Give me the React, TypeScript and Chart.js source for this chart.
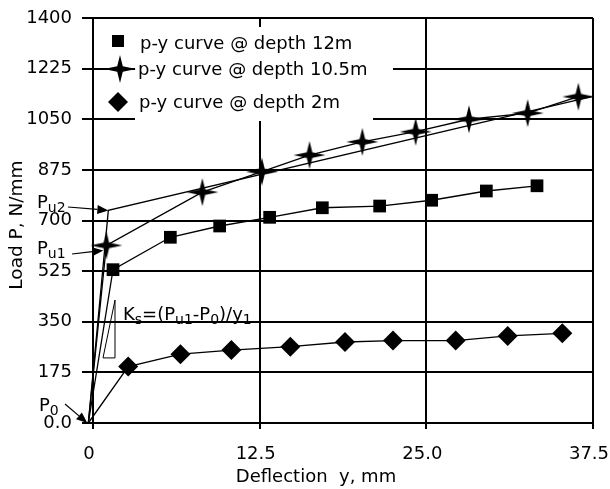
import { useEffect, useRef } from 'react';
import { Chart, registerables } from 'chart.js';

Chart.register(...registerables);

// ---------- data ----------
const xTickLabels = ['0', '12.5', '25.0', '37.5'];
const yTickLabels = ['0.0', '175', '350', '525', '700', '875', '1050', '1225', '1400'];

const seriesNames = ['p-y curve @ depth 12m', 'p-y curve @ depth 10.5m', 'p-y curve @ depth 2m'];

const depth12X = [-0.35, 1.5, 5.8, 9.5, 13.25, 17.2, 21.5, 25.4, 29.5, 33.3];
const depth12Y = [0, 530, 642, 681, 711, 744, 750, 770, 802, 820];

const depth105X = [-0.35, 1.0, 8.2, 12.67, 16.24, 20.2, 24.2, 28.2, 32.6, 36.4];
const depth105Y = [0, 614, 798, 869, 926, 972, 1007, 1050, 1071, 1128];

const depth2X = [-0.35, 2.64, 6.56, 10.38, 14.8, 18.9, 22.5, 27.2, 31.1, 35.2];
const depth2Y = [0, 195, 238, 252, 264, 280, 285, 285, 301, 310];

// bilinear idealisation (P0 -> Pu2 -> end)
const bilinearX = [-0.35, 1.15, 37.4];
const bilinearY = [0, 735, 1128];

// Ks slope triangle (data units)
const ksTriX = [0.75, 1.65];
const ksTriY = [225, 425];
const ksTextAt = { x: 2.25, y: 356 };

const xTitle = 'Deflection  y, mm';
const yTitle = 'Load P, N/mm';

const FONT = 'DejaVu Sans';

function toPoints(xs: number[], ys: number[]) {
  return xs.map((x, i) => ({ x, y: ys[i] }));
}

function makeStar(): HTMLCanvasElement {
  const c = document.createElement('canvas');
  c.width = 34;
  c.height = 30;
  const g = c.getContext('2d')!;
  const cx = 17, cy = 15, rx = 16, ry = 14, k = 2.8;
  g.fillStyle = '#000';
  g.beginPath();
  g.moveTo(cx, cy - ry);
  g.lineTo(cx + k, cy - k);
  g.lineTo(cx + rx, cy);
  g.lineTo(cx + k, cy + k);
  g.lineTo(cx, cy + ry);
  g.lineTo(cx - k, cy + k);
  g.lineTo(cx - rx, cy);
  g.lineTo(cx - k, cy - k);
  g.closePath();
  g.fill();
  return c;
}

function drawRich(ctx: CanvasRenderingContext2D, parts: [string, boolean][], x: number, baseline: number) {
  let cx = x;
  for (const [t, sub] of parts) {
    ctx.font = sub ? `14px "${FONT}"` : `18px "${FONT}"`;
    ctx.fillText(t, cx, sub ? baseline + 4 : baseline);
    cx += ctx.measureText(t).width;
  }
}

function arrow(ctx: CanvasRenderingContext2D, x1: number, y1: number, x2: number, y2: number) {
  const a = Math.atan2(y2 - y1, x2 - x1);
  const L = 11, W = 4.5;
  const bx = x2 - L * Math.cos(a), by = y2 - L * Math.sin(a);
  ctx.lineWidth = 1.2;
  ctx.beginPath();
  ctx.moveTo(x1, y1);
  ctx.lineTo(bx, by);
  ctx.stroke();
  ctx.beginPath();
  ctx.moveTo(x2, y2);
  ctx.lineTo(bx + W * Math.sin(a), by - W * Math.cos(a));
  ctx.lineTo(bx - W * Math.sin(a), by + W * Math.cos(a));
  ctx.closePath();
  ctx.fill();
}

export default function App() {
  const ref = useRef<HTMLCanvasElement | null>(null);

  useEffect(() => {
    if (!ref.current) return;
    const star = makeStar();

    const overlay = {
      id: 'overlay',
      afterDraw(chart: any) {
        const { ctx, scales } = chart;
        const xs = scales.x, ys = scales.y;
        const px = (v: number) => xs.getPixelForValue(v);
        const py = (v: number) => ys.getPixelForValue(v);
        const left = chart.chartArea.left;
        ctx.save();
        ctx.fillStyle = '#000';
        ctx.strokeStyle = '#000';
        ctx.textAlign = 'left';
        ctx.textBaseline = 'alphabetic';

        // legend
        ctx.fillStyle = '#fff';
        ctx.fillRect(left + 42, 27, 258, 58);
        ctx.fillRect(left + 42, 85, 238, 36);
        ctx.fillStyle = '#000';
        ctx.fillRect(left + 19, 35, 12, 12);
        ctx.drawImage(star, left + 27 - 17, 69 - 15);
        ctx.beginPath();
        const dx = left + 25, dy = 102, r = 10;
        ctx.moveTo(dx - r, dy);
        ctx.lineTo(dx, dy - r);
        ctx.lineTo(dx + r, dy);
        ctx.lineTo(dx, dy + r);
        ctx.closePath();
        ctx.fill();
        ctx.font = `18px "${FONT}"`;
        ctx.fillText(seriesNames[0], left + 47, 49);
        ctx.fillText(seriesNames[1], left + 45, 75);
        ctx.fillText(seriesNames[2], left + 46, 108);

        // axis titles
        ctx.textAlign = 'center';
        ctx.fillText(xTitle, 316, 482);
        ctx.save();
        ctx.translate(22, 225);
        ctx.rotate(-Math.PI / 2);
        ctx.font = `18.5px "${FONT}"`;
        ctx.fillText(yTitle, 0, 0);
        ctx.restore();
        ctx.textAlign = 'left';

        // annotations
        drawRich(ctx, [['P', false], ['u2', true]], left - 56, 208);
        arrow(ctx, left - 25, 207, px(bilinearX[1]), py(bilinearY[1]));
        drawRich(ctx, [['P', false], ['u1', true]], left - 56, 254);
        arrow(ctx, left - 21, 254, px(depth105X[1]) - 3, py(depth105Y[1]) + 5);
        drawRich(ctx, [['P', false], ['0', true]], left - 54, 411);
        arrow(ctx, left - 28, 404, px(bilinearX[0]) - 1, py(bilinearY[0]));

        // Ks triangle
        ctx.lineWidth = 1;
        ctx.beginPath();
        ctx.moveTo(px(ksTriX[1]), py(ksTriY[1]));
        ctx.lineTo(px(ksTriX[1]), py(ksTriY[0]));
        ctx.lineTo(px(ksTriX[0]), py(ksTriY[0]));
        ctx.closePath();
        ctx.stroke();
        drawRich(
          ctx,
          [['K', false], ['s', true], ['=(P', false], ['u1', true], ['-P', false], ['0', true], [')/y', false], ['1', true]],
          px(ksTextAt.x),
          py(ksTextAt.y)
        );
        ctx.restore();
      },
    };

    const common = {
      showLine: true,
      borderColor: '#000',
      backgroundColor: '#000',
      borderWidth: 1.3,
      pointBorderWidth: 0,
      clip: false as any,
      tension: 0,
    };

    const chart = new Chart(ref.current, {
      type: 'scatter',
      data: {
        datasets: [
          {
            ...common,
            label: 'bilinear',
            data: toPoints(bilinearX, bilinearY),
            pointRadius: 0,
          },
          {
            ...common,
            label: seriesNames[0],
            data: toPoints(depth12X, depth12Y),
            pointStyle: 'rect',
            pointRadius: depth12X.map((_, i) => (i === 0 ? 0 : 9)),
          },
          {
            ...common,
            label: seriesNames[1],
            data: toPoints(depth105X, depth105Y),
            pointStyle: star as any,
            pointRadius: depth105X.map((_, i) => (i === 0 ? 0 : 8)),
          },
          {
            ...common,
            label: seriesNames[2],
            data: toPoints(depth2X, depth2Y),
            pointStyle: 'rectRot',
            pointRadius: depth2X.map((_, i) => (i === 0 ? 0 : 10)),
          },
        ],
      },
      options: {
        animation: false,
        responsive: false,
        devicePixelRatio: 1,
        layout: { padding: { top: 18, right: 17, left: 0, bottom: 0 } },
        plugins: { legend: { display: false }, tooltip: { enabled: false }, title: { display: false } },
        scales: {
          x: {
            type: 'linear',
            min: 0,
            max: 37.5,
            ticks: {
              stepSize: 12.5,
              color: '#000',
              font: { family: FONT, size: 18 },
              padding: 15,
              labelOffset: -4,
              maxRotation: 0,
              autoSkip: false,
              callback: (_v: any, i: number) => xTickLabels[i],
            },
            grid: { color: '#000', lineWidth: 2, tickLength: 6, tickWidth: 2, tickColor: '#000' },
            border: { display: true, color: '#000', width: 2 },
            afterFit: (s: any) => {
              s.height = 66;
              s.paddingLeft = 0;
              s.paddingRight = 0;
            },
          },
          y: {
            type: 'linear',
            min: 0,
            max: 1400,
            ticks: {
              stepSize: 175,
              color: '#000',
              font: { family: FONT, size: 18 },
              padding: 10,
              autoSkip: false,
              callback: (_v: any, i: number) => yTickLabels[i],
            },
            grid: { color: '#000', lineWidth: 2, tickLength: 11, tickWidth: 2, tickColor: '#000' },
            border: { display: true, color: '#000', width: 2 },
            afterFit: (s: any) => {
              s.width = 93;
              s.paddingTop = 0;
              s.paddingBottom = 0;
            },
          },
        },
      },
      plugins: [overlay],
    } as any);

    return () => chart.destroy();
  }, []);

  return (
    <div style={{ position: 'absolute', left: 0, top: 0, width: 610, height: 489, background: '#fff' }}>
      <canvas ref={ref} width={610} height={489} style={{ display: 'block' }} />
    </div>
  );
}
